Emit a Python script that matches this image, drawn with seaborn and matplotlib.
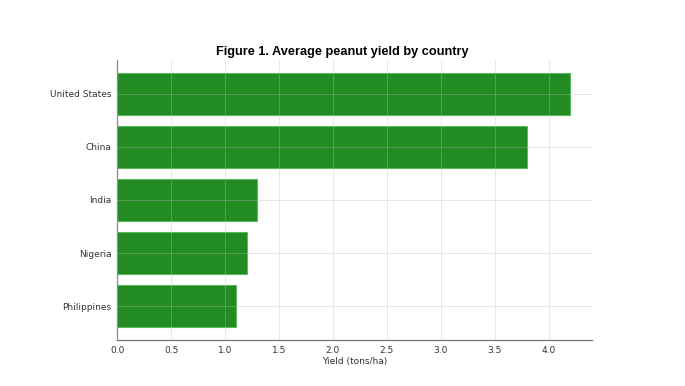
import pandas as pd
import matplotlib.pyplot as plt
import seaborn as sns

countries = ["United States", "China", "India", "Nigeria", "Philippines"]
yields = [4.2, 3.8, 1.3, 1.2, 1.1]

df = pd.DataFrame({"country": countries, "yield": yields})

sns.set_style("white")
plt.rcParams["font.family"] = ["DejaVu Sans"]
fig = plt.figure(figsize=(6.85, 3.86), dpi=100)
ax = fig.add_axes([0.171, 0.119, 0.693, 0.726])

sns.barplot(data=df, x="yield", y="country", color="#228B22", saturation=1,
            width=0.8, edgecolor="#5cb85c", linewidth=0.8, ax=ax)

ax.set_axisbelow(False)
ax.grid(True, color="#bbbbbb", linestyle="-", linewidth=0.7, alpha=0.35)
ax.set_xlim(0, 4.4)
ax.set_ylim(4.64, -0.64)
ax.set_xticks([0, 0.5, 1.0, 1.5, 2.0, 2.5, 3.0, 3.5, 4.0])
ax.tick_params(axis="both", labelsize=6.5, length=2.5, width=0.6, pad=1.5,
               colors="#777777", labelcolor="#333333")
for s in ["top", "right"]:
    ax.spines[s].set_visible(False)
for s in ["left", "bottom"]:
    ax.spines[s].set_color("#777777")
    ax.spines[s].set_linewidth(0.9)

ax.set_xlabel("Yield (tons/ha)", fontsize=6.5, color="#333333", labelpad=2)
ax.set_ylabel("")
fig.suptitle("Figure 1. Average peanut yield by country", x=0.5, y=0.865,
             va="center", fontsize=9.2, fontweight="bold",
             family="Liberation Sans", color="black")

fig.savefig("out.png", dpi=100)
